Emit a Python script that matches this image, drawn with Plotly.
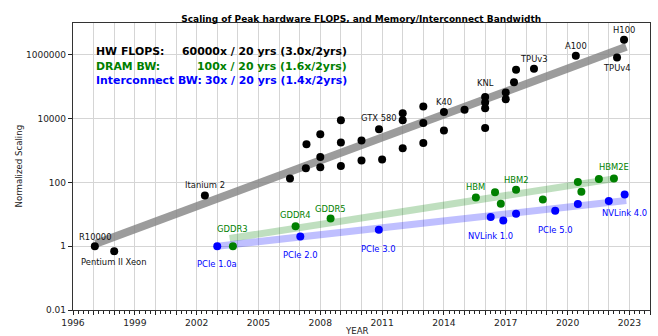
import math
import plotly.graph_objects as go

# ---------------- data ----------------
flops_year = [1997.06, 1998.0, 2002.4, 2006.53, 2007.3, 2007.33, 2008.0, 2008.0, 2008.0,
              2009.0, 2009.0, 2009.0, 2010.0, 2010.0, 2010.85, 2011.0, 2012.0, 2012.0, 2012.0,
              2013.0, 2013.0, 2013.0, 2014.0, 2014.0, 2015.0, 2016.0, 2016.0, 2016.0, 2016.0,
              2017.0, 2017.0, 2017.4, 2017.5, 2018.37, 2020.4, 2022.4, 2022.74]
flops_val = [1, 0.70, 39, 134, 278, 1580, 298, 630, 3260,
             8900, 1790, 328, 2050, 485, 4670, 520, 14800, 8900, 1180,
             24100, 7360, 1730, 16300, 4240, 19000, 47500, 32300, 21400, 5130,
             66000, 40900, 138000, 340000, 368000, 940000, 835000, 3000000]
flops_names = {0: "R10000", 1: "Pentium II Xeon", 2: "Itanium 2", 14: "GTX 580", 22: "K40",
               25: "KNL", 33: "TPUv3", 34: "A100", 35: "TPUv4", 36: "H100"}

dram_year = [2003.76, 2006.8, 2008.5, 2015.55, 2016.48, 2016.76, 2017.5, 2018.8,
             2020.5, 2020.67, 2021.52, 2022.25]
dram_val = [1, 4.2, 7.4, 34, 49, 21.5, 59, 29, 103, 51, 128, 134]
dram_names = {0: "GDDR3", 1: "GDDR4", 2: "GDDR5", 3: "HBM", 6: "HBM2", 11: "HBM2E"}

ic_year = [2003.0, 2007.03, 2010.84, 2016.27, 2016.88, 2017.5, 2019.4, 2020.5, 2022.0, 2022.77]
ic_val = [1, 2.0, 3.3, 8.2, 6.4, 10.4, 13, 21, 26, 41.6]
ic_names = {0: "PCIe 1.0a", 1: "PCIe 2.0", 2: "PCIe 3.0", 3: "NVLink 1.0", 6: "PCIe 5.0", 9: "NVLink 4.0"}

# trend lines (fits)
flops_trend_year = [1997.1, 2022.85]
flops_trend_val = [1.2, 1.8e6]
dram_trend_year = [2003.6, 2022.3]
dram_trend_val = [1.75, 132]
ic_trend_year = [2003.0, 2022.85]
ic_trend_val = [1.0, 27]

legend_rows = [("HW FLOPS:", "60000x / 20 yrs (3.0x/2yrs)"),
               ("DRAM BW:", "100x / 20 yrs (1.6x/2yrs)"),
               ("Interconnect BW:", "30x / 20 yrs (1.4x/2yrs)")]

x_tick_years = list(range(1996, 2025))
y_tick_vals = [0.01, 1, 100, 10000, 1000000]
y_tick_text = ["0.01", "1", "100", "10000", "1000000"]

# ---------------- styles ----------------
FONT = "DejaVu Sans"
BLACK, GREEN, BLUE = "#000000", "#008000", "#0000ff"
label_shift = {  # vertical pixel shift of point labels
    "R10000": 9, "Pentium II Xeon": -11, "Itanium 2": 10, "GTX 580": 11, "K40": 10,
    "KNL": 14, "TPUv3": 10, "A100": 10, "TPUv4": -11, "H100": 10,
    "GDDR3": 17, "GDDR4": 11, "GDDR5": 10, "HBM": 10, "HBM2": 10, "HBM2E": 11,
    "PCIe 1.0a": -18, "PCIe 2.0": -18, "PCIe 3.0": -19, "NVLink 1.0": -19,
    "PCIe 5.0": -19, "NVLink 4.0": -18,
}

fig = go.Figure()

# trend bands
fig.add_trace(go.Scatter(x=flops_trend_year, y=flops_trend_val, mode="lines",
                         line=dict(color="rgba(128,128,128,0.78)", width=8), hoverinfo="skip"))
fig.add_trace(go.Scatter(x=dram_trend_year, y=dram_trend_val, mode="lines",
                         line=dict(color="rgba(0,128,0,0.25)", width=7), hoverinfo="skip"))
fig.add_trace(go.Scatter(x=ic_trend_year, y=ic_trend_val, mode="lines",
                         line=dict(color="rgba(0,0,255,0.25)", width=7), hoverinfo="skip"))

# points
fig.add_trace(go.Scatter(x=flops_year, y=flops_val, mode="markers",
                         marker=dict(color=BLACK, size=8)))
fig.add_trace(go.Scatter(x=dram_year, y=dram_val, mode="markers",
                         marker=dict(color=GREEN, size=8)))
fig.add_trace(go.Scatter(x=ic_year, y=ic_val, mode="markers",
                         marker=dict(color=BLUE, size=8)))

annotations = []
for years, vals, names, col in [(flops_year, flops_val, flops_names, "#111111"),
                                (dram_year, dram_val, dram_names, GREEN),
                                (ic_year, ic_val, ic_names, BLUE)]:
    for i, name in names.items():
        annotations.append(dict(x=years[i], y=math.log10(vals[i]), xref="x", yref="y",
                                text=name, showarrow=False, xanchor="center", yanchor="middle",
                                yshift=label_shift[name],
                                font=dict(family=FONT, size=8.4, color=col)))

row_y = [0.900, 0.850, 0.801]
row_col = [BLACK, GREEN, BLUE]
for (lab, val), yy, col in zip(legend_rows, row_y, row_col):
    annotations.append(dict(x=0.037, y=yy, xref="paper", yref="paper", text="<b>%s</b>" % lab,
                            showarrow=False, xanchor="left", yanchor="middle",
                            font=dict(family=FONT, size=10.9, color=col)))
    annotations.append(dict(x=0.479, y=yy, xref="paper", yref="paper", text="<b>%s</b>" % val,
                            showarrow=False, xanchor="right", yanchor="middle",
                            font=dict(family=FONT, size=10.9, color=col)))

# axis titles
annotations.append(dict(x=(357 - 73) / 577, y=-21 / 287, xref="paper", yref="paper", text="YEAR",
                        showarrow=False, xanchor="center", yanchor="middle",
                        font=dict(family=FONT, size=8.6, color="#222")))
annotations.append(dict(x=-55 / 577, y=0.5, xref="paper", yref="paper", text="Normalized Scaling",
                        showarrow=False, xanchor="center", yanchor="middle", textangle=-90,
                        font=dict(family=FONT, size=8.6, color="#222")))

minor_vals = [1996 + q * 0.25 for q in range(0, 28 * 4 + 1) if q % 4 != 0]

fig.update_layout(
    width=658, height=336,
    margin=dict(l=73, r=8, t=23, b=26),
    paper_bgcolor="white", plot_bgcolor="white",
    showlegend=False,
    font=dict(family=FONT, size=9, color="#222222"),
    title=dict(text="<b>Scaling of Peak hardware FLOPS, and Memory/Interconnect Bandwidth</b>",
               x=0.549, xanchor="center", y=1 - 18.5 / 336, yanchor="middle", yref="container",
               font=dict(family=FONT, size=9, color="black")),
    annotations=annotations,
)
fig.update_xaxes(
    range=[1996, 2024], tickmode="array", tickvals=x_tick_years,
    ticktext=[str(y) if (y - 1996) % 3 == 0 else "" for y in x_tick_years],
    ticks="outside", ticklen=4, tickcolor="#222", tickwidth=1,
    showgrid=True, gridcolor="#d5d5d5", gridwidth=1, zeroline=False,
    showline=True, linecolor="#333", linewidth=1.3, mirror=True,
    minor=dict(tickmode="array", tickvals=minor_vals, ticks="outside", ticklen=2.5,
               tickcolor="#222", showgrid=False),
    automargin=False,
    tickfont=dict(family=FONT, size=9.2),
)
fig.update_yaxes(
    type="log", range=[-2, 7], tickmode="array", tickvals=y_tick_vals, ticktext=y_tick_text,
    ticks="outside", ticklen=4, tickcolor="#222",
    showgrid=True, gridcolor="#d5d5d5", gridwidth=1, zeroline=False,
    showline=True, linecolor="#333", linewidth=1.3, mirror=True,
    automargin=False,
    tickfont=dict(family=FONT, size=9),
)

fig.write_html("out.html", config={"displayModeBar": False},
               post_script="document.body.style.margin='0';document.body.style.overflow='hidden';")
